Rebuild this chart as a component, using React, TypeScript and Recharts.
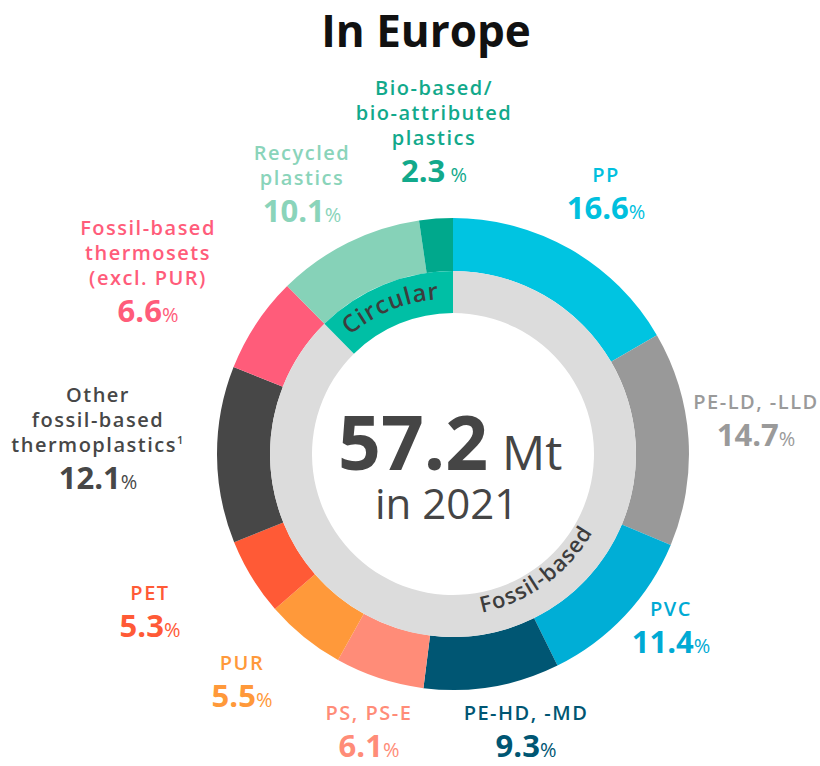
import React from "react";
import { PieChart, Pie, Cell } from "recharts";

const categories = [
  "PP",
  "PE-LD, -LLD",
  "PVC",
  "PE-HD, -MD",
  "PS, PS-E",
  "PUR",
  "PET",
  "Other fossil-based thermoplastics",
  "Fossil-based thermosets (excl. PUR)",
  "Recycled plastics",
  "Bio-based/bio-attributed plastics",
];
const shares = [16.6, 14.7, 11.4, 9.3, 6.1, 5.5, 5.3, 12.1, 6.6, 10.1, 2.3];
const labelLines = [
  ["PP"],
  ["PE-LD, -LLD"],
  ["PVC"],
  ["PE-HD, -MD"],
  ["PS, PS-E"],
  ["PUR"],
  ["PET"],
  ["Other", "fossil-based", "thermoplastics"],
  ["Fossil-based", "thermosets", "(excl. PUR)"],
  ["Recycled", "plastics"],
  ["Bio-based/", "bio-attributed", "plastics"],
];
const groups = ["Fossil-based", "Circular"];
const groupShares = [87.6, 12.4];
const totalMt = "57.2";
const year = "2021";

// styles
const segColors = [
  "#00C4E1",
  "#999999",
  "#00AED6",
  "#005673",
  "#FF8C78",
  "#FF993A",
  "#FF5A36",
  "#474747",
  "#FF5C7A",
  "#86D2B8",
  "#00A88C",
];
const textColors = [
  "#00C0DE",
  "#9A9A9A",
  "#00AAD4",
  "#005673",
  "#FF8C78",
  "#FF993A",
  "#FF5A36",
  "#474747",
  "#FF5C7A",
  "#8AD4BA",
  "#12A98B",
];
const groupColors = ["#DCDCDC", "#00BFA5"];

// label anchor (center x, first-line baseline)
const labelPos = [
  { x: 606, y: 182 },
  { x: 756, y: 409 },
  { x: 671, y: 616 },
  { x: 526, y: 720 },
  { x: 369, y: 720 },
  { x: 242, y: 670 },
  { x: 150, y: 600 },
  { x: 98, y: 402 },
  { x: 148, y: 235 },
  { x: 302, y: 160 },
  { x: 434, y: 95 },
];

const CX = 448;
const CY = 449;
const FONT = "'Open Sans', 'Noto Sans', sans-serif";

const outerData = categories.map((name, i) => ({ name, value: shares[i] }));
const innerData = groups.map((name, i) => ({ name, value: groupShares[i] }));

function arcPath(r: number, a1: number, a2: number, sweep: number) {
  const rad = (d: number) => (d * Math.PI) / 180;
  const x1 = CX + r * Math.cos(rad(a1));
  const y1 = CY + r * Math.sin(rad(a1));
  const x2 = CX + r * Math.cos(rad(a2));
  const y2 = CY + r * Math.sin(rad(a2));
  return `M ${x1} ${y1} A ${r} ${r} 0 0 ${sweep} ${x2} ${y2}`;
}

export default function App() {
  return (
    <div
      style={{
        position: "absolute",
        left: 0,
        top: 0,
        width: 820,
        height: 766,
        background: "#fff",
      }}
    >
      <PieChart width={820} height={766} style={{ position: "absolute", left: 0, top: 0 }}>
        <Pie
          data={outerData}
          dataKey="value"
          nameKey="name"
          cx={CX}
          cy={CY}
          innerRadius={183}
          outerRadius={236}
          startAngle={90}
          endAngle={-270}
          stroke="none"
          isAnimationActive={false}
        >
          {outerData.map((d, i) => (
            <Cell key={d.name} fill={segColors[i]} stroke="none" />
          ))}
        </Pie>
        <Pie
          data={innerData}
          dataKey="value"
          nameKey="name"
          cx={CX}
          cy={CY}
          innerRadius={141}
          outerRadius={183}
          startAngle={90}
          endAngle={-270}
          stroke="none"
          isAnimationActive={false}
        >
          {innerData.map((d, i) => (
            <Cell key={d.name} fill={groupColors[i]} stroke="none" />
          ))}
        </Pie>
      </PieChart>
      <svg
        width={820}
        height={766}
        style={{ position: "absolute", left: 0, top: 0, pointerEvents: "none" }}
      >
        <defs>
          <path id="circPath" d={arcPath(150, -162, -62, 1)} />
          <path id="fossilPath" d={arcPath(167, 106, 2, 0)} />
        </defs>
        <text
          x={426}
          y={47}
          textAnchor="middle"
          fontFamily={FONT}
          fontWeight={700}
          fontSize={44}
          fill="#111"
        >
          In Europe
        </text>

        <text fontFamily={FONT} fill="#454545" x={338} y={470}>
          <tspan fontSize={75} fontWeight={700}>
            {totalMt}
          </tspan>
          <tspan fontSize={48} fontWeight={400} dx={14}>
            Mt
          </tspan>
          <tspan x={375} dy={49} fontSize={42} fontWeight={400}>
            {`in ${year}`}
          </tspan>
        </text>

        <text fontFamily={FONT} fontWeight={600} fontSize={24} fill="#3D3D3D" letterSpacing={1}>
          <textPath href="#circPath" startOffset="50%" textAnchor="middle">
            {groups[1]}
          </textPath>
        </text>
        <text fontFamily={FONT} fontWeight={600} fontSize={22} fill="#3D3D3D" letterSpacing={1}>
          <textPath href="#fossilPath" startOffset="50%" textAnchor="middle">
            {groups[0]}
          </textPath>
        </text>

        {categories.map((c, i) => {
          const p = labelPos[i];
          const lines = labelLines[i];
          const numY = p.y + (lines.length - 1) * 25 + 37;
          return (
            <g key={c} fill={textColors[i]} fontFamily={FONT} textAnchor="middle">
              {lines.map((l, j) => (
                <text
                  key={j}
                  x={p.x}
                  y={p.y + j * 25}
                  fontSize={20}
                  fontWeight={600}
                  letterSpacing={1.5}
                >
                  {l}
                  {i === 7 && j === 2 ? (
                    <tspan fontSize={11} dy={-8}>
                      1
                    </tspan>
                  ) : null}
                </text>
              ))}
              <text x={p.x} y={numY}>
                <tspan fontSize={31} fontWeight={700}>
                  {shares[i].toFixed(1)}
                </tspan>
                <tspan fontSize={20} fontWeight={400}>
                  {i === 10 ? " %" : "%"}
                </tspan>
              </text>
            </g>
          );
        })}
      </svg>
    </div>
  );
}
